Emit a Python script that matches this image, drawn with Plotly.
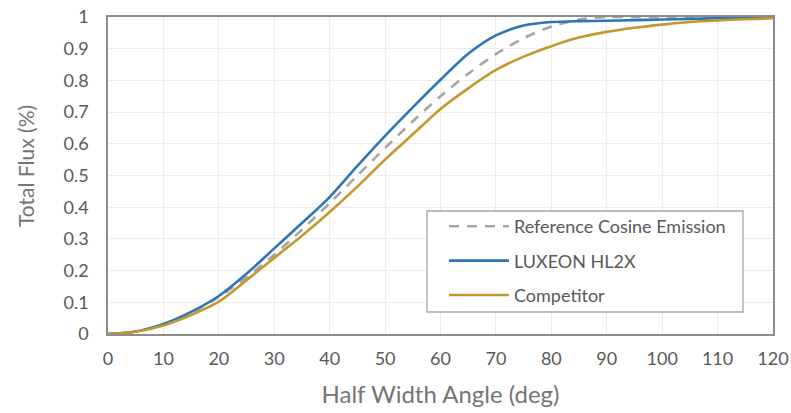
import plotly.graph_objects as go

angles = [0, 5, 10, 15, 20, 25, 30, 35, 40, 45, 50, 55, 60, 65, 70, 75, 80, 85, 90, 95, 100, 105, 110, 115, 120]

cosine_ref = [0, 0.0076, 0.030, 0.067, 0.117, 0.179, 0.25, 0.329, 0.413, 0.5, 0.587, 0.671, 0.75,
              0.821, 0.883, 0.933, 0.970, 0.992, 1.0, 1.0, 1.0, 1.0, 1.0, 1.0, 1.0]

luxeon = [0, 0.008, 0.032, 0.07, 0.12, 0.19, 0.27, 0.35, 0.432, 0.53, 0.625, 0.715, 0.802,
          0.884, 0.942, 0.973, 0.984, 0.987, 0.988, 0.990, 0.992, 0.994, 0.996, 0.998, 1.0]

competitor = [0, 0.007, 0.027, 0.06, 0.102, 0.17, 0.24, 0.31, 0.385, 0.465, 0.55, 0.63, 0.71,
              0.775, 0.833, 0.875, 0.908, 0.935, 0.953, 0.966, 0.976, 0.984, 0.989, 0.993, 0.996]

names = ["Reference Cosine Emission", "LUXEON HL2X", "Competitor"]
x_ticks = list(range(0, 121, 10))
y_ticks = [i / 10 for i in range(11)]
y_labels = ["0", "0.1", "0.2", "0.3", "0.4", "0.5", "0.6", "0.7", "0.8", "0.9", "1"]
x_title = "Half Width Angle (deg)"
y_title = "Total Flux (%)"

FONT = "Lato"
SM = 0.8
fig = go.Figure()
fig.add_trace(go.Scatter(x=angles, y=cosine_ref, name=names[0], mode="lines", legendgroup="a",
                         line=dict(color="#A5A5A5", width=2.6, dash="10px,8px", shape="spline", smoothing=SM)))
fig.add_trace(go.Scatter(x=angles, y=luxeon, name=names[1], mode="lines", legendgroup="b",
                         line=dict(color="#2E75B6", width=2.6, shape="spline", smoothing=SM)))
fig.add_trace(go.Scatter(x=angles, y=competitor, name=names[2], mode="lines", legendgroup="c",
                         line=dict(color="#C5982F", width=2.6, shape="spline", smoothing=SM)))

W, H = 791, 413
L, R, T, B = 108, 18, 17, 79
pw = W - L - R
ph = H - T - B

def px2x(p):
    return (p - L) / pw

def px2y(p):
    return (H - B - p) / ph

fig.add_shape(type="rect", xref="paper", yref="paper",
              x0=px2x(427), x1=px2x(743), y0=px2y(312), y1=px2y(211),
              line=dict(color="#A6A6A6", width=1.3), fillcolor="white", layer="above")

fig.add_annotation(text=y_title, xref="paper", yref="paper", x=px2x(25), y=px2y(166),
                   xanchor="center", yanchor="middle", textangle=-90, showarrow=False,
                   font=dict(size=21, color="#757575", family=FONT))

fig.update_layout(
    width=W, height=H,
    margin=dict(l=L, r=R, t=T, b=B, autoexpand=False),
    paper_bgcolor="white", plot_bgcolor="white",
    font=dict(family=FONT, color="#595959"),
    showlegend=True,
    hovermode=False,
    legend=dict(x=px2x(444), y=px2y(208), xanchor="left", yanchor="top",
                bgcolor="rgba(0,0,0,0)", borderwidth=0,
                font=dict(size=18, color="#595959", family=FONT),
                itemwidth=60, tracegroupgap=8),
    xaxis=dict(range=[0, 120], tickmode="array", tickvals=x_ticks,
               showgrid=True, gridcolor="#EDEDED", gridwidth=1,
               showline=True, linecolor="#8C8C8C", linewidth=1.5, mirror=True,
               ticks="outside", ticklen=8, tickcolor="rgba(0,0,0,0)",
               tickfont=dict(size=18, color="#595959"), automargin=False,
               ticklabeloverflow="allow",
               title=dict(text=x_title, font=dict(size=24, color="#757575"), standoff=18),
               zeroline=False),
    yaxis=dict(range=[0, 1], tickmode="array", tickvals=y_ticks, ticktext=y_labels,
               showgrid=True, gridcolor="#EDEDED", gridwidth=1,
               showline=True, linecolor="#8C8C8C", linewidth=1.5, mirror=True,
               ticks="outside", ticklen=14, tickcolor="rgba(0,0,0,0)",
               tickfont=dict(size=18, color="#595959"), automargin=False,
               ticklabeloverflow="allow",
               zeroline=False),
)

fig.write_html("out.html", config={"displayModeBar": False},
               post_script="document.body.style.margin='0';document.body.style.overflow='hidden';")
